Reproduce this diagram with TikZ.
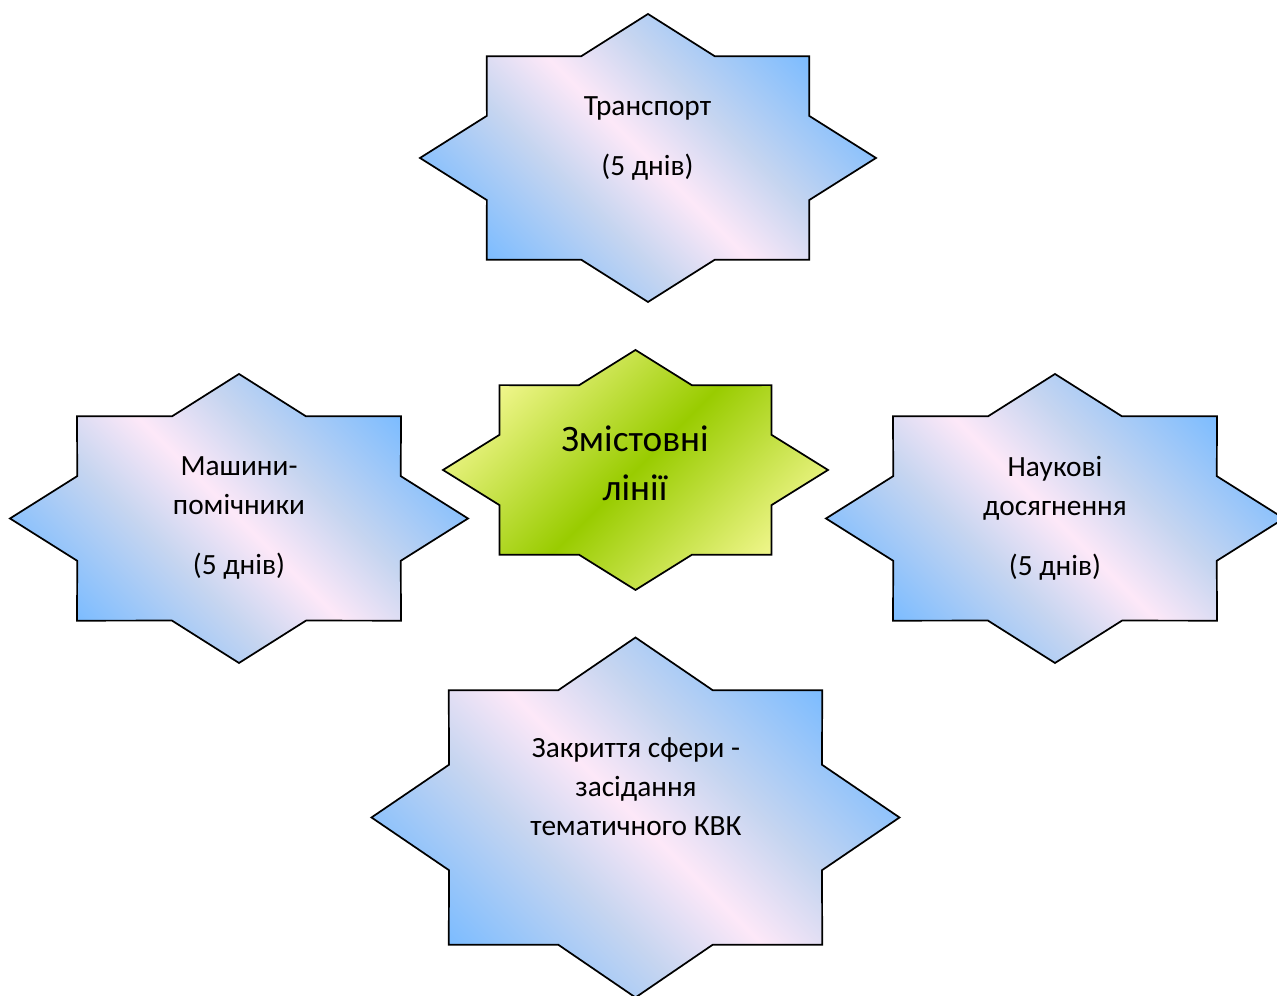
\documentclass[tikz,border=0pt]{standalone}
\usepackage{fontspec}
\setmainfont{Carlito}
\usetikzlibrary{positioning}

\definecolor{starblue}{RGB}{124,188,255}
\definecolor{starmid}{RGB}{198,213,240}
\definecolor{starpink}{RGB}{253,232,248}
\definecolor{stargreen}{RGB}{153,204,0}
\definecolor{staryellow}{RGB}{240,246,140}

% diagonal fills
\pgfdeclareverticalshading{bluesky}{100bp}{color(0bp)=(starblue); color(25bp)=(starblue);
  color(40bp)=(starmid); color(50bp)=(starpink); color(60bp)=(starmid);
  color(75bp)=(starblue); color(100bp)=(starblue)}
\pgfdeclareverticalshading{greenglow}{100bp}{color(0bp)=(staryellow); color(25bp)=(staryellow);
  color(50bp)=(stargreen); color(75bp)=(staryellow); color(100bp)=(staryellow)}

% eight-pointed star: style, centre, half width, half height
\newcommand{\octstar}[4]{%
  \begin{scope}[shift={(#2)}, xscale=#3, yscale=#4]
    \draw[#1] (0:1) \foreach \a in {0,45,...,315} {-- (\a+22.5:0.765) -- (\a+45:1)} -- cycle;
  \end{scope}}

\begin{document}
\begin{tikzpicture}[x=0.375pt, y=0.375pt,
    bluestar/.style={draw=black, line width=0.65pt, shading=bluesky, shading angle=-45},
    greenstar/.style={draw=black, line width=0.65pt, shading=greenglow, shading angle=45},
    startext/.style={align=center, inner sep=0pt, font=\fontsize{11pt}{14.6pt}\selectfont},
    bigtext/.style={align=center, inner sep=0pt, font=\fontsize{14pt}{18.4pt}\selectfont}]

    \useasboundingbox (0,0) rectangle (1277,996);

    % Stars
    \octstar{bluestar}{648,838}{228}{144}
    \octstar{greenstar}{635.5,526}{192.5}{120}
    \octstar{bluestar}{239,477.5}{229}{144.5}
    \octstar{bluestar}{1055,477.5}{229}{144.5}
    \octstar{bluestar}{635.5,178.5}{264}{180}

    % Nodes
    \node (lines) [bigtext] at (635,533) {Змістовні\\лінії};
    \node (transport) [startext] at (647.5,857) {Транспорт\\[7.9pt](5 днів)};
    \node (machines) [startext] at (239,478) {Машини-\\помічники\\[7.9pt](5 днів)};
    \node (science) [startext] at (1055,478) {Наукові\\досягнення\\[7.9pt](5 днів)};
    \node (closing) [startext] at (636,209) {Закриття сфери -\\засідання\\тематичного КВК};

\end{tikzpicture}
\end{document}
